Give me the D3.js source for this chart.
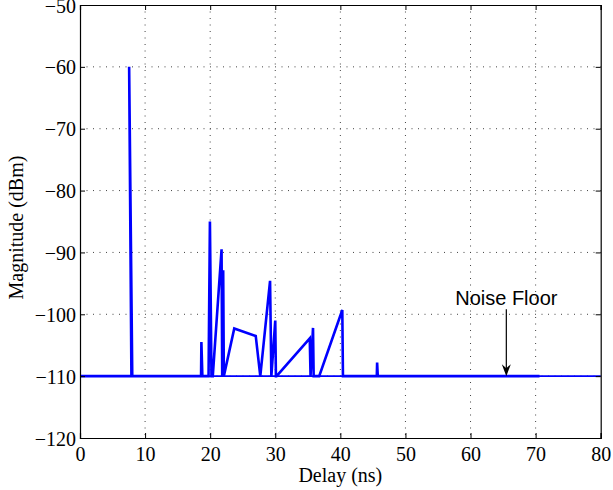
<!DOCTYPE html>
<html>
<head>
<meta charset="utf-8">
<script src="https://cdn.jsdelivr.net/npm/d3@7"></script>
<style>
  html, body { margin: 0; padding: 0; background: #fff; }
  svg { display: block; }
</style>
</head>
<body>
<svg id="chart" width="613" height="490"></svg>
<script>
// Channel impulse response: delay (ns) vs magnitude (dBm)
const delays = [0, 7.9, 7.55, 8.03, 18.6, 18.65, 18.8, 19.75, 19.96, 20.2, 20.4, 21.75, 21.85, 22.0, 22.1,
  23.7, 27.0, 27.7, 29.2, 29.4, 30.0, 30.1, 30.2, 35.3, 35.42, 35.8, 35.9, 36.75, 40.3, 40.4,
  45.6, 45.65, 45.75, 70.6];
const magnitudes = [-110, -110, -60, -110, -110, -104.5, -110, -110, -85, -110, -110, -89.5, -110, -92.9, -110,
  -102.3, -103.5, -110, -94.6, -110, -101, -110, -110, -103.9, -110, -102.2, -110, -110, -99.3, -110,
  -110, -107.8, -110, -110];

// Noise floor reference and its annotation
const noiseFloor = -110;
const floorSpan = [0, 80];
const annotation = { text: "Noise Floor", delay: 65.5, textLevel: -98.5, arrowFrom: -99.2 };

const xTicks = [0, 10, 20, 30, 40, 50, 60, 70, 80];
const yTicks = [-120, -110, -100, -90, -80, -70, -60, -50];

const svg = d3.select("#chart");
const margin = { left: 80, top: 5, right: 12.3, bottom: 52 };
const W = 613, H = 490;
const iw = W - margin.left - margin.right;
const ih = H - margin.top - margin.bottom;

const x = d3.scaleLinear().domain([0, 80]).range([0, iw]);
const y = d3.scaleLinear().domain([-120, -50]).range([ih, 0]);

const g = svg.append("g").attr("transform", `translate(${margin.left},${margin.top})`);

// Dotted grid
const grid = g.append("g").attr("stroke", "#444").attr("stroke-width", 1)
  .attr("stroke-dasharray", "1,5.5");
xTicks.slice(1, -1).forEach(t => {
  grid.append("line").attr("x1", x(t)).attr("x2", x(t)).attr("y1", 0).attr("y2", ih);
});
yTicks.slice(1, -1).forEach(t => {
  grid.append("line").attr("x1", 0).attr("x2", iw).attr("y1", y(t)).attr("y2", y(t));
});

// Noise floor trace over the full span
g.append("line")
  .attr("x1", x(floorSpan[0])).attr("x2", x(floorSpan[1]))
  .attr("y1", y(noiseFloor)).attr("y2", y(noiseFloor))
  .attr("stroke", "#0000ff").attr("stroke-width", 1.8);

// Measured response
const pts = delays.map((d, i) => [d, magnitudes[i]]);
const line = d3.line().x(d => x(d[0])).y(d => y(d[1]));
g.append("path").datum(pts)
  .attr("d", line)
  .attr("fill", "none")
  .attr("stroke", "#0000ff")
  .attr("stroke-width", 2.6)
  .attr("stroke-linejoin", "miter")
  .attr("stroke-miterlimit", 3);

// Axes with inward ticks on all four sides
const fmt = d3.format("d");
const tickFont = "'Liberation Serif', 'Times New Roman', serif";

const axB = g.append("g").attr("transform", `translate(0,${ih})`)
  .call(d3.axisBottom(x).tickValues(xTicks).tickFormat(fmt).tickSize(-5).tickPadding(9));
const axL = g.append("g")
  .call(d3.axisLeft(y).tickValues(yTicks).tickFormat(fmt).tickSize(-5).tickPadding(4));
const axT = g.append("g")
  .call(d3.axisTop(x).tickValues(xTicks).tickFormat("").tickSize(-5));
const axR = g.append("g").attr("transform", `translate(${iw},0)`)
  .call(d3.axisRight(y).tickValues(yTicks).tickFormat("").tickSize(-5));

[axB, axL, axT, axR].forEach(a => {
  a.select(".domain").attr("stroke", "#000").attr("stroke-width", 1.2);
  a.selectAll(".tick line").attr("stroke", "#000").attr("stroke-width", 1);
  a.selectAll("text").attr("font-family", tickFont).attr("font-size", 20).attr("fill", "#000");
});
axB.selectAll(".tick text").attr("dy", "0.72em");
axL.selectAll(".tick text").attr("dy", "0.35em");

// Axis titles
svg.append("text")
  .attr("x", margin.left + iw / 2).attr("y", 482)
  .attr("text-anchor", "middle")
  .attr("font-family", tickFont).attr("font-size", 20)
  .text("Delay (ns)");

svg.append("text")
  .attr("transform", `translate(23,${margin.top + ih / 2 + 6}) rotate(-90)`)
  .attr("text-anchor", "middle")
  .attr("font-family", tickFont).attr("font-size", 20)
  .text("Magnitude (dBm)");

// Annotation with arrow pointing to the floor
const ax = x(annotation.delay);
g.append("text")
  .attr("x", ax).attr("y", y(annotation.textLevel))
  .attr("text-anchor", "middle")
  .attr("font-family", "'Liberation Sans', Arial, sans-serif")
  .attr("font-size", 20)
  .text(annotation.text);

const tipY = y(noiseFloor);
g.append("line")
  .attr("x1", ax).attr("x2", ax)
  .attr("y1", y(annotation.arrowFrom)).attr("y2", tipY - 6)
  .attr("stroke", "#000").attr("stroke-width", 1.2);
g.append("path")
  .attr("d", `M${ax},${tipY} L${ax - 4.5},${tipY - 12} L${ax},${tipY - 8} L${ax + 4.5},${tipY - 12} Z`)
  .attr("fill", "#000");
</script>
</body>
</html>
